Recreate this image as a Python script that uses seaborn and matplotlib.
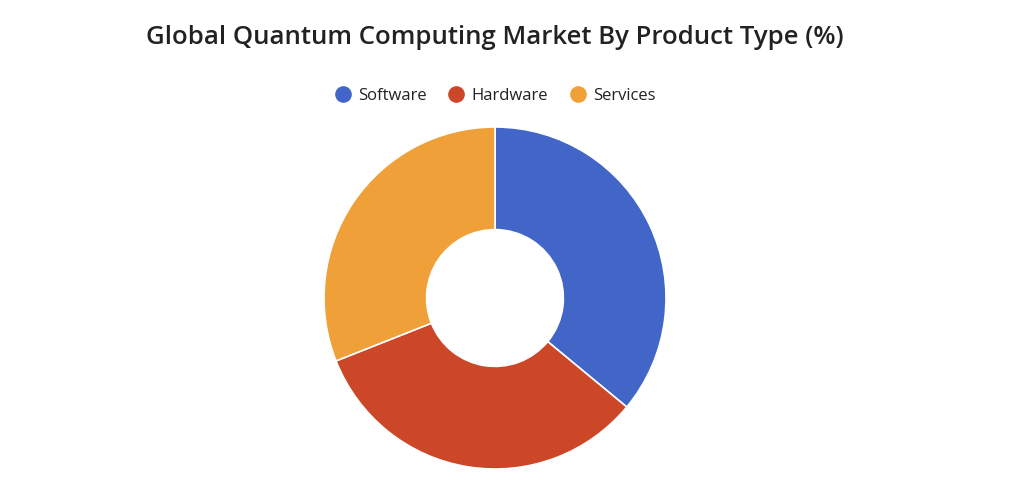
import matplotlib
matplotlib.use("Agg")
import matplotlib.pyplot as plt
import seaborn as sns
from matplotlib.lines import Line2D

categories = ["Software", "Hardware", "Services"]
values = [36, 33, 31]
colors = ["#4166c8", "#cc4628", "#f0a038"]

sns.set_theme(style="white")
plt.rcParams['font.family'] = ['Open Sans', 'DejaVu Sans']

fig = plt.figure(figsize=(10.24, 4.91), dpi=100)

pax = fig.add_axes([(495-171)/1024, 1-(469)/491, 342/1024, 342/491])
wedges, _ = pax.pie(values, colors=colors, startangle=90, counterclock=False,
                    radius=1.0, wedgeprops=dict(width=0.6, edgecolor='white', linewidth=1.2))
pax.set_xlim(-1, 1)
pax.set_ylim(-1, 1)
pax.set_aspect('equal')
pax.axis('off')

fig.text(495/1024, 1-38/491, "Global Quantum Computing Market By Product Type (%)",
         ha='center', va='center', fontsize=18.5, fontweight='semibold', color='#222222')

handles = [Line2D([0], [0], marker='o', color='w', markerfacecolor=c, markersize=13) for c in colors]
fig.legend(handles, categories, loc='center', bbox_to_anchor=(495/1024, 1-96/491),
           ncol=3, frameon=False, fontsize=12, handlelength=1.0,
           columnspacing=1.3, handletextpad=0.4, labelcolor='#222222')

fig.savefig("out.png", dpi=100, facecolor='white')
